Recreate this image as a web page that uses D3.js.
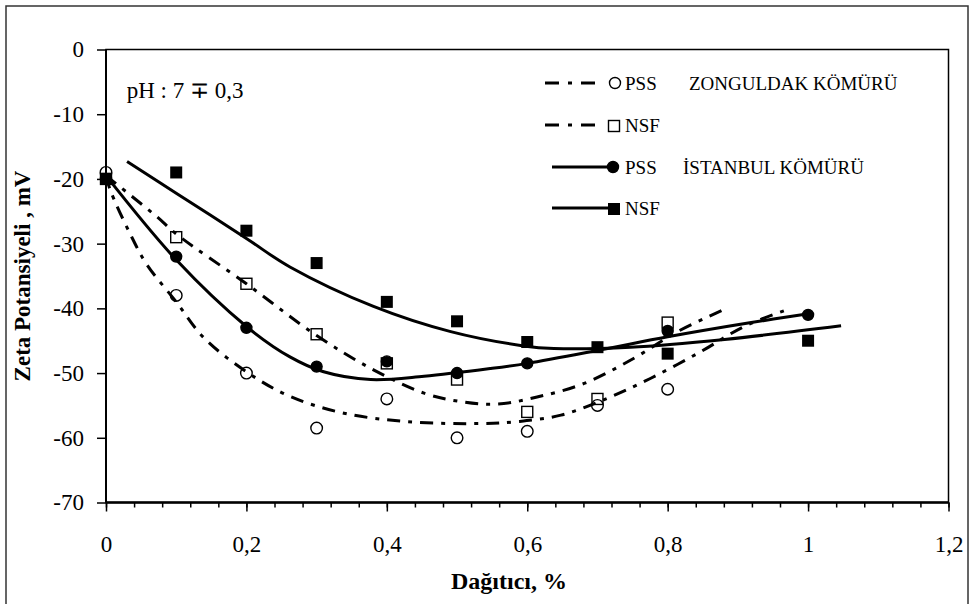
<!DOCTYPE html>
<html lang="tr">
<head>
<meta charset="UTF-8">
<title>Zeta Potansiyeli</title>
<script src="https://d3js.org/d3.v7.min.js"></script>
<style>
  body { margin: 0; background: #fff; }
  svg { display: block; font-family: "Liberation Serif", "Times New Roman", serif; }
  .axis { font-family: "Liberation Serif", "Times New Roman", serif; }
  .axis text { font-size: 23px; fill: #000; }
  .axis line { stroke: #000; stroke-width: 1.5px; }
  .trend { fill: none; stroke: #000; stroke-width: 3px; }
  .dashdot { stroke-dasharray: 13,8,4,8; }
</style>
</head>
<body>
<svg width="970" height="604"></svg>
<script>
// axis ticks
const xTicks = [0, 0.2, 0.4, 0.6, 0.8, 1, 1.2];
const xTickLabels = ["0", "0,2", "0,4", "0,6", "0,8", "1", "1,2"];
const xMinorTicks = d3.range(0, 1.2001, 0.04);
const yTicks = [0, -10, -20, -30, -40, -50, -60, -70];

// measured points [dağıtıcı %, zeta mV]
const zongPss = [[0, -19], [0.1, -38], [0.2, -50], [0.3, -58.5], [0.4, -54], [0.5, -60], [0.6, -59], [0.7, -55], [0.8, -52.5]];
const zongNsf = [[0, -20], [0.1, -29], [0.2, -36.2], [0.3, -44], [0.4, -48.5], [0.5, -51], [0.6, -56], [0.7, -54], [0.8, -42.2]];
const istPss = [[0, -20], [0.1, -32], [0.2, -43], [0.3, -49], [0.4, -48.2], [0.5, -50], [0.6, -48.5], [0.8, -43.5], [1, -41]];
const istNsf = [[0, -20], [0.1, -19], [0.2, -28], [0.3, -33], [0.4, -39], [0.5, -42], [0.6, -45.2], [0.7, -46], [0.8, -47], [1, -45]];

// trend lines
const zongPssTrend = [[0, -19.5], [0.006, -21.7], [0.034, -28.4], [0.058, -33.2], [0.1, -39], [0.139, -44.5], [0.2, -49.8], [0.262, -53.6], [0.339, -56.2], [0.429, -57.5], [0.534, -57.8], [0.586, -57.5], [0.648, -56.5], [0.714, -53.9], [0.776, -50.8], [0.847, -46.7], [0.909, -42.8], [0.973, -40.1]];
const zongNsfTrend = [[0, -19.5], [0.072, -25.8], [0.1, -28.5], [0.2, -36.2], [0.3, -44.2], [0.381, -49.5], [0.453, -53.1], [0.505, -54.4], [0.557, -54.8], [0.614, -53.7], [0.681, -51.6], [0.752, -47.7], [0.814, -43.6], [0.878, -40.3]];
const istPssTrend = [[0, -19.5], [0.1, -32.5], [0.2, -42.8], [0.262, -47.5], [0.31, -49.8], [0.377, -51], [0.453, -50.5], [0.548, -49.3], [0.6, -48.5], [0.705, -46.4], [0.8, -44.4], [0.919, -42.2], [1.003, -40.8]];
const istNsfTrend = [[0.03, -17.3], [0.1, -22.2], [0.2, -29.2], [0.262, -33.6], [0.381, -39.7], [0.491, -43.6], [0.595, -45.8], [0.638, -46.2], [0.747, -46.0], [0.881, -44.8], [1.047, -42.7]];

const svg = d3.select("svg");
const plotLeft = 106, plotTop = 49.5, plotRight = 948.5, plotBottom = 502.5;

const x = d3.scaleLinear().domain([0, 1.2]).range([plotLeft, plotRight]);
const y = d3.scaleLinear().domain([-70, 0]).range([plotBottom, plotTop]);

// outer frame
svg.append("rect")
    .attr("x", 6).attr("y", 6).attr("width", 962).attr("height", 610)
    .attr("fill", "none").attr("stroke", "#333").attr("stroke-width", 1.5);

// plot box
svg.append("rect")
    .attr("x", plotLeft).attr("y", plotTop)
    .attr("width", plotRight - plotLeft).attr("height", plotBottom - plotTop)
    .attr("fill", "none").attr("stroke", "#000").attr("stroke-width", 1.5);

// axes
svg.append("g").attr("class", "axis")
    .attr("transform", `translate(0,${plotBottom})`)
    .call(d3.axisBottom(x).tickValues(xMinorTicks).tickSize(5).tickFormat(""))
    .call(g => g.select(".domain").remove());

svg.append("g").attr("class", "axis")
    .attr("transform", `translate(0,${plotBottom})`)
    .call(d3.axisBottom(x).tickValues(xTicks).tickSize(9).tickPadding(24)
        .tickFormat((d, i) => xTickLabels[i]))
    .call(g => g.select(".domain").remove());

svg.append("g").attr("class", "axis")
    .attr("transform", `translate(${plotLeft},0)`)
    .call(d3.axisLeft(y).tickValues(yTicks).tickSize(9).tickPadding(13).tickFormat(d => String(d)))
    .call(g => g.select(".domain").remove());

// axis lines a bit heavier
svg.append("line").attr("x1", plotLeft).attr("x2", plotRight).attr("y1", plotBottom).attr("y2", plotBottom)
    .attr("stroke", "#000").attr("stroke-width", 2.5);
svg.append("line").attr("x1", plotLeft).attr("x2", plotLeft).attr("y1", plotTop).attr("y2", plotBottom)
    .attr("stroke", "#000").attr("stroke-width", 2);

// titles
svg.append("text")
    .attr("x", 509).attr("y", 589)
    .attr("text-anchor", "middle")
    .style("font-size", "24px").style("font-weight", "bold")
    .text("Dağıtıcı, %");

svg.append("text")
    .attr("transform", "translate(30,276) rotate(-90)")
    .attr("text-anchor", "middle")
    .style("font-size", "23px").style("font-weight", "bold")
    .text("Zeta Potansiyeli , mV");

svg.append("text")
    .attr("x", x(0.0295)).attr("y", y(-7.5))
    .style("font-size", "23px")
    .text("pH : 7 ∓ 0,3");

// trend lines
const line = d3.line().x(d => x(d[0])).y(d => y(d[1])).curve(d3.curveCatmullRom.alpha(0.5));

const trends = [
    {data: zongPssTrend, dash: true},
    {data: zongNsfTrend, dash: true},
    {data: istPssTrend, dash: false},
    {data: istNsfTrend, dash: false}
];
svg.selectAll("path.trend")
    .data(trends)
    .enter().append("path")
    .attr("class", d => d.dash ? "trend dashdot" : "trend")
    .attr("d", d => line(d.data));

// markers
function circles(data, filled) {
    svg.append("g").selectAll("circle")
        .data(data).enter().append("circle")
        .attr("cx", d => x(d[0])).attr("cy", d => y(d[1]))
        .attr("r", filled ? 5.5 : 5.8)
        .attr("fill", filled ? "#000" : "none")
        .attr("stroke", "#000").attr("stroke-width", 1.4);
}
function squares(data, filled) {
    const s = filled ? 12 : 11;
    svg.append("g").selectAll("rect")
        .data(data).enter().append("rect")
        .attr("x", d => x(d[0]) - s / 2).attr("y", d => y(d[1]) - s / 2)
        .attr("width", s).attr("height", s)
        .attr("fill", filled ? "#000" : "none")
        .attr("stroke", "#000").attr("stroke-width", filled ? 0 : 1.4);
}
circles(zongPss, false);
squares(zongNsf, false);
circles(istPss, true);
squares(istNsf, true);

// legend
const legend = svg.append("g").style("font-size", "19px");
const rows = [
    {y: 83, dash: true, marker: "circle", filled: false, label: "PSS", extra: "ZONGULDAK KÖMÜRÜ", ex: 689},
    {y: 125, dash: true, marker: "square", filled: false, label: "NSF"},
    {y: 167, dash: false, marker: "circle", filled: true, label: "PSS", extra: "İSTANBUL KÖMÜRÜ", ex: 683},
    {y: 208, dash: false, marker: "square", filled: true, label: "NSF"}
];
rows.forEach(r => {
    legend.append("line")
        .attr("x1", r.dash ? 545 : 552).attr("x2", r.dash ? 599 : 613)
        .attr("y1", r.y).attr("y2", r.y)
        .attr("class", "trend")
        .style("stroke-dasharray", r.dash ? "14,9,4,9,14" : null);
    if (r.marker === "circle") {
        legend.append("circle").attr("cx", r.filled ? 613 : 615).attr("cy", r.y)
            .attr("r", 5.5)
            .attr("fill", r.filled ? "#000" : "#fff").attr("stroke", "#000").attr("stroke-width", 1.4);
    } else {
        const s = r.filled ? 12 : 11;
        legend.append("rect").attr("x", 614 - s / 2).attr("y", r.y - s / 2 + 1)
            .attr("width", s).attr("height", s)
            .attr("fill", r.filled ? "#000" : "#fff").attr("stroke", "#000")
            .attr("stroke-width", r.filled ? 0 : 1.4);
    }
    legend.append("text").attr("x", 625).attr("y", r.y + 7).text(r.label);
    if (r.extra) legend.append("text").attr("x", r.ex).attr("y", r.y + 7).text(r.extra);
});
</script>
</body>
</html>
